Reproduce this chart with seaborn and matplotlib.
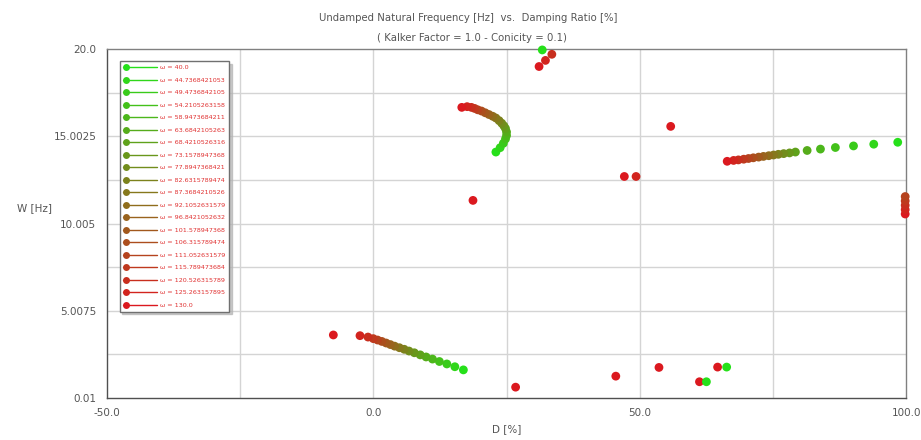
import numpy as np
import pandas as pd
import matplotlib
matplotlib.use('Agg')
import matplotlib.pyplot as plt
import seaborn as sns
from matplotlib.lines import Line2D
from matplotlib.legend_handler import HandlerBase

# omega values (legend), 20 steps from 40 to 130
omega = [40.0, 44.7368421053, 49.4736842105, 54.2105263158, 58.9473684211,
         63.6842105263, 68.4210526316, 73.1578947368, 77.8947368421, 82.6315789474,
         87.3684210526, 92.1052631579, 96.8421052632, 101.578947368, 106.315789474,
         111.052631579, 115.789473684, 120.526315789, 125.263157895, 130.0]
omega_labels = ['ω = 40.0', 'ω = 44.7368421053', 'ω = 49.4736842105', 'ω = 54.2105263158',
                'ω = 58.9473684211', 'ω = 63.6842105263', 'ω = 68.4210526316', 'ω = 73.1578947368',
                'ω = 77.8947368421', 'ω = 82.6315789474', 'ω = 87.3684210526', 'ω = 92.1052631579',
                'ω = 96.8421052632', 'ω = 101.578947368', 'ω = 106.315789474', 'ω = 111.052631579',
                'ω = 115.789473684', 'ω = 120.526315789', 'ω = 125.263157895', 'ω = 130.0']

# mode 1 (low frequency branch), one point per omega
d_low = [16.9, 15.3, 13.8, 12.4, 11.1, 9.9, 8.8, 7.7, 6.7, 5.8,
         4.9, 4.0, 3.2, 2.4, 1.6, 0.8, 0.0, -1.0, -2.5, -7.5]
w_low = [1.62, 1.80, 1.96, 2.10, 2.24, 2.36, 2.48, 2.60, 2.70, 2.80,
         2.89, 2.98, 3.07, 3.16, 3.25, 3.33, 3.41, 3.50, 3.58, 3.62]

# mode 2 (arc near 15 Hz)
d_arc = [23.0, 23.8, 24.4, 24.8, 25.0, 25.0, 24.8, 24.5, 24.1, 23.6,
         23.0, 22.4, 21.7, 21.0, 20.3, 19.6, 19.0, 18.4, 17.6, 16.6]
w_arc = [14.10, 14.35, 14.60, 14.85, 15.05, 15.25, 15.45, 15.60, 15.75, 15.90,
         16.05, 16.15, 16.25, 16.35, 16.45, 16.52, 16.60, 16.66, 16.70, 16.66]

# mode 3 (upper right branch)
d_high = [98.4, 93.9, 90.1, 86.7, 83.9, 81.4, 79.2, 78.1, 77.0, 76.0,
          75.1, 74.2, 73.2, 72.3, 71.3, 70.4, 69.5, 68.5, 67.6, 66.4]
w_high = [14.66, 14.55, 14.45, 14.36, 14.27, 14.19, 14.10, 14.05, 14.01, 13.97,
          13.93, 13.89, 13.85, 13.81, 13.77, 13.73, 13.69, 13.65, 13.62, 13.57]

# scattered single points (omega index, D, W)
extra_idx = [19, 18, 17, 0, 19, 19, 18, 19, 19, 18, 17, 16, 15, 19, 19, 19, 19, 0, 19, 0]
extra_d = [31.1, 32.3, 33.5, 31.7, 55.8, 47.1, 49.3, 18.7, 99.8, 99.8, 99.8, 99.8, 99.8,
           26.7, 45.5, 53.6, 61.2, 62.5, 64.6, 66.3]
extra_w = [19.0, 19.35, 19.7, 19.95, 15.57, 12.7, 12.7, 11.33, 10.55, 10.8, 11.05, 11.3, 11.55,
           0.63, 1.26, 1.76, 0.94, 0.94, 1.78, 1.78]

n = len(omega)
rows = []
for i in range(n):
    rows.append((i, d_low[i], w_low[i]))
    rows.append((i, d_arc[i], w_arc[i]))
    rows.append((i, d_high[i], w_high[i]))
for i, d, w in zip(extra_idx, extra_d, extra_w):
    rows.append((i, d, w))
df = pd.DataFrame(rows, columns=['idx', 'D', 'W'])

# green -> red
green = np.array([0.15, 0.88, 0.10])
red = np.array([0.86, 0.10, 0.12])
colors = [tuple(green + (red - green) * k / (n - 1)) for k in range(n)]


class DotAtLeft(HandlerBase):
    # line with the marker on its left end, like the original legend
    def create_artists(self, legend, orig, xdescent, ydescent, width, height, fontsize, trans):
        y = height / 2 - ydescent
        x0 = -xdescent
        line = Line2D([x0, x0 + width], [y, y], color=orig.get_color(), lw=1)
        dot = Line2D([x0 + 2], [y], color=orig.get_color(), marker='o', ms=5,
                     markeredgewidth=0, ls='none')
        line.set_transform(trans)
        dot.set_transform(trans)
        return [line, dot]


sns.set_theme(style='white')
fig = plt.figure(figsize=(9.21, 4.40), dpi=100)
ax = fig.add_axes([0.116, 0.0955, 0.868, 0.793])

yt = [0.01, 5.0075, 10.005, 15.0025, 20.0]
ax.set_xlim(-50, 100)
ax.set_ylim(0.01, 20.0)
for x in [-25, 0, 25, 50, 75]:
    ax.axvline(x, color='#d4d4d4', lw=1, zorder=0)
for k in range(1, 8):
    ax.axhline(0.01 + k * 2.49875, color='#d4d4d4', lw=1, zorder=0)

sns.scatterplot(data=df, x='D', y='W', hue='idx', palette=colors, s=40,
                linewidth=0, legend=False, ax=ax, zorder=3, clip_on=False)

ax.set_xticks([-50, 0, 50, 100])
ax.set_xticklabels(['-50.0', '0.0', '50.0', '100.0'])
ax.set_xticks([-25, 25, 75], minor=True)
ax.set_yticks(yt)
ax.set_yticklabels(['0.01', '5.0075', '10.005', '15.0025', '20.0'])
ax.set_yticks([0.01 + k * 2.49875 for k in (1, 3, 5, 7)], minor=True)
ax.tick_params(axis='both', which='both', direction='out', length=4, width=1,
               color='#606060', labelsize=7.5, labelcolor='#555555')
ax.tick_params(which='minor', length=3)
for sp in ax.spines.values():
    sp.set_color('#808080')
    sp.set_linewidth(1)
ax.spines['left'].set_color('#505050')
ax.spines['bottom'].set_color('#505050')

ax.set_xlabel('D [%]', fontsize=7.5, color='#555555', labelpad=4)
ax.set_ylabel('W [Hz]', fontsize=7.5, color='#555555', rotation=0, labelpad=4)
ax.yaxis.set_label_coords(-0.09, 0.53)

fig.text(0.508, 0.958, 'Undamped Natural Frequency [Hz]  vs.  Damping Ratio [%]',
         ha='center', va='center', fontsize=7.3, color='#555555')
fig.text(0.512, 0.914, '( Kalker Factor = 1.0 - Conicity = 0.1)',
         ha='center', va='center', fontsize=7.3, color='#555555')

handles = [Line2D([0, 1], [0, 0], color=colors[k]) for k in range(n)]
leg = ax.legend(handles, omega_labels, loc='upper left', bbox_to_anchor=(0.012, 0.975),
                fontsize=4.6, handlelength=5.2, labelspacing=1.1,
                borderpad=0.6, handletextpad=0.5, frameon=True, fancybox=False,
                shadow={'color': '0.7', 'alpha': 0.7}, edgecolor='#707070', framealpha=1,
                handler_map={Line2D: DotAtLeft()})
for t in leg.get_texts():
    t.set_color('#e03030')
leg.set_zorder(5)

fig.savefig('out.png', dpi=100)
